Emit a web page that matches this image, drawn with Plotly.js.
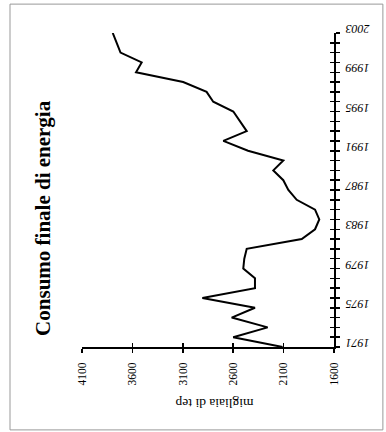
<!DOCTYPE html>
<html>
<head>
<meta charset="utf-8">
<script src="https://cdn.plot.ly/plotly-3.0.1.min.js"></script>
<style>
html,body{margin:0;padding:0;background:#fff;}
#chart{width:386px;height:432px;}
</style>
</head>
<body>
<div id="chart"></div>
<script>
const years = [1971,1972,1973,1974,1975,1976,1977,1978,1979,1980,1981,1982,1983,1984,1985,1986,1987,1988,1989,1990,1991,1992,1993,1994,1995,1996,1997,1998,1999,2000,2001,2002,2003];
const consumo = [2110,2600,2258,2615,2384,2906,2384,2384,2500,2490,2466,1920,1788,1746,1788,1970,2053,2103,2202,2103,2453,2698,2466,2532,2599,2798,2864,3096,3564,3508,3718,3756,3795];
const valueTicks = [1600,2100,2600,3100,3600,4100];
const yearTicks = [1971,1975,1979,1983,1987,1991,1995,1999,2003];
const chartTitle = "Consumo finale di energia";
const valueAxisTitle = "migliaia di tep";

const serif = "Liberation Serif, Times New Roman, serif";

const traces = [
  {x: consumo, y: years, type: 'scatter', mode: 'lines',
   line: {color: '#000', width: 2}, hoverinfo: 'skip', xaxis: 'x', yaxis: 'y'},
  {x: consumo, y: years, type: 'scatter', mode: 'lines',
   line: {color: 'rgba(0,0,0,0)', width: 0}, hoverinfo: 'skip', xaxis: 'x2', yaxis: 'y2', showlegend: false}
];

const common = {showgrid: false, zeroline: false, fixedrange: true};

const layout = {
  width: 386, height: 432,
  margin: {l: 82, r: 52, t: 33, b: 85, pad: 0},
  paper_bgcolor: '#fff', plot_bgcolor: '#fff',
  showlegend: false,
  font: {family: serif, color: '#000', size: 11},
  xaxis: Object.assign({}, common, {
    range: [4100, 1600], tickmode: 'array', tickvals: valueTicks,
    ticktext: valueTicks.map(String), tickangle: -90,
    ticks: 'outside', ticklen: 4, tickwidth: 1.5, tickcolor: '#000',
    ticklabelstandoff: 5,
    showline: true, linecolor: '#000', linewidth: 2,
    tickfont: {family: serif, size: 11.5, color: '#000'}, anchor: 'y'
  }),
  yaxis: Object.assign({}, common, {
    range: [1971, 2003], side: 'right', tickmode: 'array', tickvals: yearTicks,
    ticktext: yearTicks.map(String), tickangle: 180,
    ticks: 'outside', ticklen: 4, tickwidth: 1.5, tickcolor: '#000',
    ticklabelstandoff: 27,
    minor: {dtick: 1, tick0: 1971, ticks: 'outside', ticklen: 4, tickwidth: 1.5, tickcolor: '#000'},
    showline: true, linecolor: '#000', linewidth: 2,
    tickfont: {family: serif, size: 12, color: '#000', style: 'italic'}, anchor: 'x'
  }),
  xaxis2: Object.assign({}, common, {
    range: [4100, 1600], overlaying: 'x', anchor: 'y2', side: 'bottom',
    tickmode: 'array', tickvals: valueTicks, showticklabels: false,
    ticks: 'inside', ticklen: 4, tickwidth: 1.5, tickcolor: '#000', showline: false
  }),
  yaxis2: Object.assign({}, common, {
    range: [1971, 2003], overlaying: 'y', anchor: 'x2', side: 'right',
    tickmode: 'array', tickvals: yearTicks, showticklabels: false,
    ticks: 'inside', ticklen: 4, tickwidth: 1.5, tickcolor: '#000',
    minor: {dtick: 1, tick0: 1971, ticks: 'inside', ticklen: 4, tickwidth: 1.5, tickcolor: '#000'},
    showline: false
  }),
  annotations: [
    {text: '<b>' + chartTitle + '</b>', xref: 'paper', yref: 'paper',
     x: -0.155, y: 0.411, xanchor: 'center', yanchor: 'middle', textangle: -90, showarrow: false,
     font: {family: serif, size: 21, color: '#000'}},
    {text: valueAxisTitle, xref: 'paper', yref: 'paper',
     x: 0.525, y: -0.178, xanchor: 'center', yanchor: 'middle', textangle: 180, showarrow: false,
     font: {family: serif, size: 13.5, color: '#000'}}
  ],
  shapes: [
    {type: 'rect', xref: 'paper', yref: 'paper',
     x0: -0.2857, x1: 1.194, y0: -0.264, y1: 1.092,
     line: {color: '#999', width: 1}, fillcolor: 'rgba(0,0,0,0)', layer: 'below'}
  ]
};

Plotly.newPlot('chart', traces, layout, {displayModeBar: false, staticPlot: true});
</script>
</body>
</html>
